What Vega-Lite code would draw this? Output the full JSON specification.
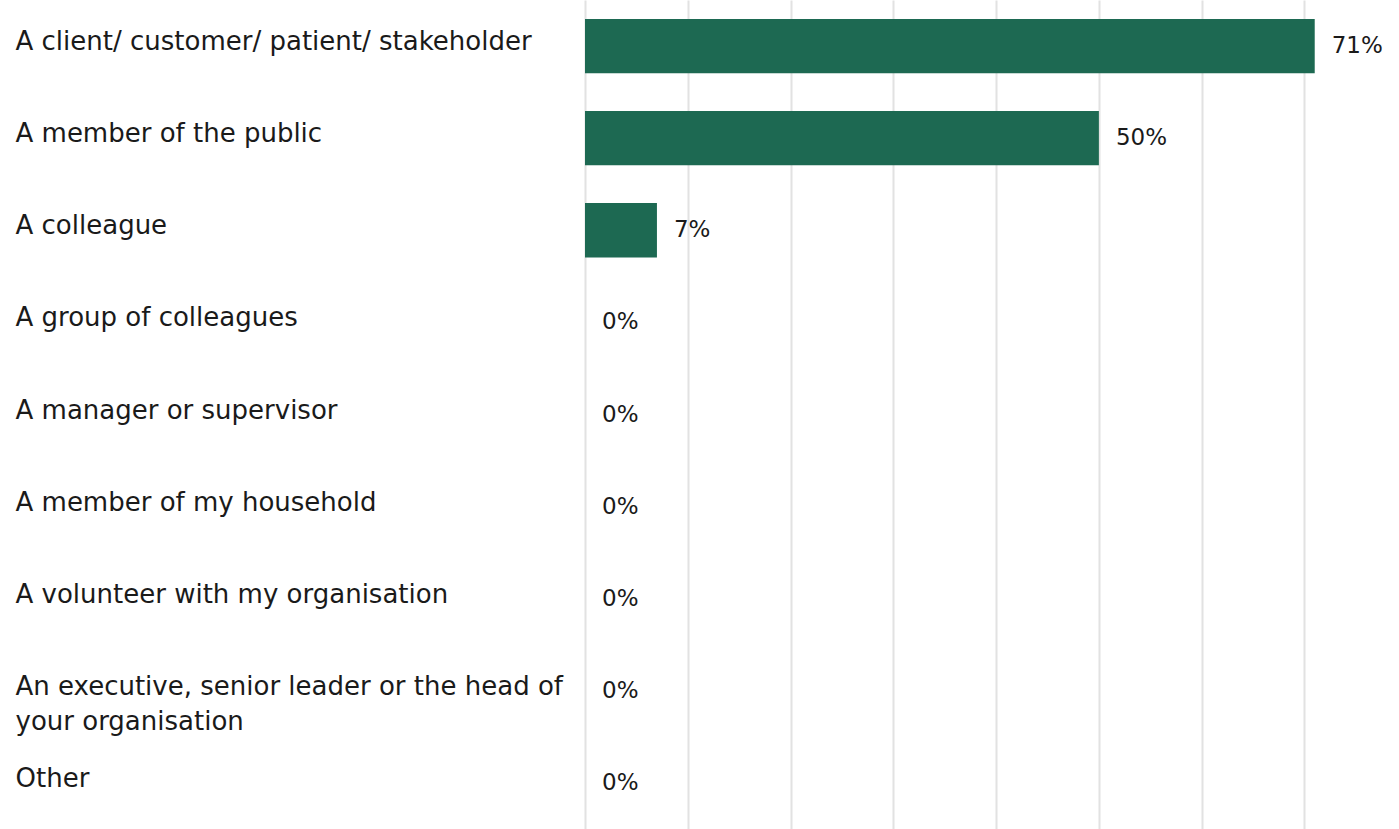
{
  "$schema": "https://vega.github.io/schema/vega-lite/v6.json",
  "autosize": "none",
  "padding": {"left": 585, "top": 0, "right": 0, "bottom": 0},
  "width": 814,
  "height": 829,
  "background": "white",
  "config": {"view": {"stroke": null}, "font": "DejaVu Sans"},
  "data": {
    "values": [
      {"category": "A client/ customer/ patient/ stakeholder", "value": 71, "label": "71%"},
      {"category": "A member of the public", "value": 50, "label": "50%"},
      {"category": "A colleague", "value": 7, "label": "7%"},
      {"category": "A group of colleagues", "value": 0, "label": "0%"},
      {"category": "A manager or supervisor", "value": 0, "label": "0%"},
      {"category": "A member of my household", "value": 0, "label": "0%"},
      {"category": "A volunteer with my organisation", "value": 0, "label": "0%"},
      {"category": "An executive, senior leader or the head of your organisation", "value": 0, "label": "0%"},
      {"category": "Other", "value": 0, "label": "0%"}
    ]
  },
  "encoding": {
    "y": {
      "field": "category",
      "type": "nominal",
      "sort": null,
      "scale": {"paddingInner": 0.41, "paddingOuter": 0.205},
      "axis": {
        "title": null,
        "domain": false,
        "ticks": false,
        "grid": false,
        "labelAlign": "left",
        "labelBaseline": "alphabetic",
        "labelPadding": 570,
        "labelOffset": 4,
        "labelFontSize": 26,
        "labelColor": "#1a1a1a",
        "labelLimit": 600,
        "labelLineHeight": 35,
        "labelExpr": "datum.label == 'An executive, senior leader or the head of your organisation' ? ['An executive, senior leader or the head of', 'your organisation'] : datum.label"
      }
    },
    "x": {
      "field": "value",
      "type": "quantitative",
      "scale": {"domain": [0, 79.2], "nice": false},
      "axis": {
        "title": null,
        "labels": false,
        "ticks": false,
        "domain": false,
        "grid": true,
        "gridColor": "#e2e2e2",
        "gridWidth": 2,
        "values": [0, 10, 20, 30, 40, 50, 60, 70]
      }
    }
  },
  "layer": [
    {"mark": {"type": "bar", "color": "#1d6952"}},
    {
      "mark": {"type": "text", "align": "left", "baseline": "middle", "dx": 17, "fontSize": 23, "color": "#1a1a1a"},
      "encoding": {"text": {"field": "label"}}
    }
  ]
}
